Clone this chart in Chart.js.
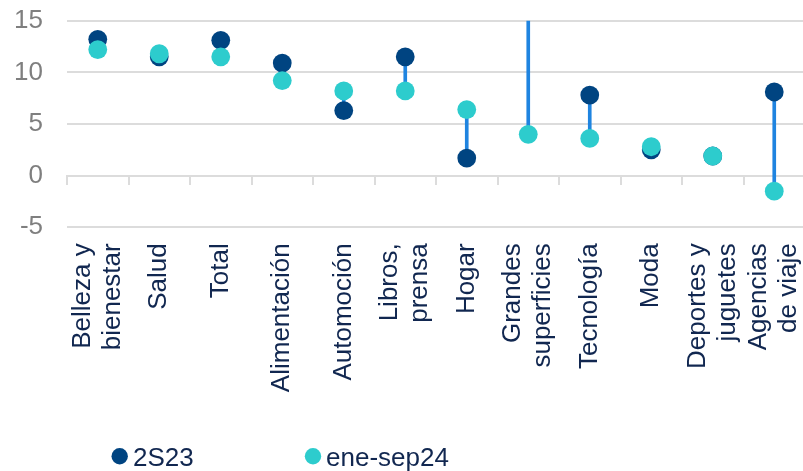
<!DOCTYPE html>
<html>
<head>
<meta charset="utf-8">
<script src="https://cdn.jsdelivr.net/npm/chart.js@4.4.1/dist/chart.umd.min.js"></script>
<style>
  html, body { margin: 0; padding: 0; background: #ffffff; overflow: hidden; }
  #wrap { position: relative; width: 805px; height: 471px; }
</style>
</head>
<body>
<div id="wrap"><canvas id="chart"></canvas></div>
<script>
// Categories (multi-line labels as arrays)
const categories = [
  ["Belleza y", "bienestar"], "Salud", "Total", "Alimentación", "Automoción",
  ["Libros,", "prensa"], "Hogar", ["Grandes", "superficies"], "Tecnología",
  "Moda", ["Deportes y", "juguetes"], ["Agencias", "de viaje"]
];

// Series values
const series2S23     = [13.2, 11.5, 13.1, 10.9, 6.3, 11.5, 1.7, 19.0, 7.8, 2.5, 1.9, 8.1];
const seriesEneSep24 = [12.2, 11.8, 11.5,  9.2, 8.2,  8.2, 6.4,  4.0, 3.6, 2.8, 1.9, -1.5];

// Series names and value-axis ticks
const seriesNames = ["2S23", "ene-sep24"];
const yTickValues = [-5, 0, 5, 10, 15];

const NAVY = '#004481';
const AQUA = '#2dcccd';
const LINK = '#1f84e0';
const GRID = '#dcdcdc';
const TEXT = '#112750';
const AXIS_TEXT = '#7f7f7f';
const FONT = '"Liberation Sans", Arial, Helvetica, sans-serif';

// Plot box: left edge, top (value 15) and bottom (value -5)
const PLOT_LEFT = 67;
const PLOT_TOP = 20.7;
const PLOT_BOTTOM = 227.3;
const PAD_BOTTOM = 60;

// Vertical connector spanning both values of each category
const spans = categories.map((_, i) => [series2S23[i], seriesEneSep24[i]]);

const noPadding = (s) => {
  s.paddingLeft = 0; s.paddingRight = 0; s.paddingTop = 0; s.paddingBottom = 0;
};

// Keep multi-line rotated category labels centred on their tick
const centerLabels = {
  id: 'centerLabels',
  beforeDraw(chart) {
    chart.scales.x.getLabelItems().forEach(it => {
      if (it._centered) return;
      const n = Array.isArray(it.label) ? it.label.length : 1;
      it.options.translation[0] -= (n - 1) * it.font.lineHeight / 2;
      it._centered = true;
    });
  }
};

// Legend with round markers under the plot
const dotLegend = {
  id: 'dotLegend',
  afterDraw(chart) {
    const ctx = chart.ctx;
    const entries = [
      { ds: chart.data.datasets[1], cx: 119.7, tx: 133 },
      { ds: chart.data.datasets[0], cx: 313, tx: 326 }
    ];
    ctx.save();
    ctx.font = '26px ' + FONT;
    ctx.textBaseline = 'alphabetic';
    ctx.textAlign = 'left';
    entries.forEach(e => {
      ctx.beginPath();
      ctx.fillStyle = e.ds.pointBackgroundColor;
      ctx.arc(e.cx, 456.3, 8.2, 0, Math.PI * 2);
      ctx.fill();
      ctx.fillStyle = TEXT;
      ctx.fillText(e.ds.label, e.tx, 466);
    });
    ctx.restore();
  }
};

const dotStyle = (color) => ({
  type: 'line',
  showLine: false,
  pointRadius: 9.4,
  pointHoverRadius: 9.4,
  pointBorderWidth: 0,
  pointBackgroundColor: color,
  backgroundColor: color,
  borderColor: color
});

new Chart(document.getElementById('chart'), {
  type: 'bar',
  data: {
    labels: categories,
    datasets: [
      Object.assign(dotStyle(AQUA), { label: seriesNames[1], data: seriesEneSep24, order: 0 }),
      Object.assign(dotStyle(NAVY), { label: seriesNames[0], data: series2S23, order: 1 }),
      {
        type: 'bar',
        label: 'rango',
        data: spans,
        backgroundColor: LINK,
        borderWidth: 0,
        barThickness: 3,
        order: 2
      }
    ]
  },
  options: {
    responsive: true,
    maintainAspectRatio: false,
    animation: false,
    events: [],
    layout: {
      autoPadding: false,
      padding: { left: 14, right: 0, top: PLOT_TOP, bottom: PAD_BOTTOM }
    },
    plugins: {
      legend: { display: false },
      tooltip: { enabled: false }
    },
    scales: {
      x: {
        offset: true,
        grid: { display: false, drawTicks: false, offset: true },
        border: { display: false },
        ticks: {
          autoSkip: false,
          maxRotation: 90,
          minRotation: 90,
          padding: 16,
          color: TEXT,
          font: { family: FONT, size: 26, lineHeight: 1.15 }
        },
        afterFit(s) {
          noPadding(s);
          s.height = 471 - PLOT_BOTTOM - PAD_BOTTOM;
        }
      },
      x0: {
        type: 'category',
        axis: 'x',
        position: { y: 0 },
        offset: true,
        grid: {
          offset: true,
          drawOnChartArea: false,
          drawTicks: true,
          tickLength: 8,
          color: GRID,
          lineWidth: 2
        },
        border: { display: true, color: GRID, width: 2 },
        ticks: { display: false },
        afterFit: noPadding
      },
      y: {
        min: -5,
        max: 15,
        afterBuildTicks(s) { s.ticks = yTickValues.map(v => ({ value: v })); },
        grid: { color: GRID, lineWidth: 2, drawTicks: false },
        border: { display: false },
        ticks: {
          padding: 24,
          color: AXIS_TEXT,
          font: { family: FONT, size: 26 }
        },
        afterFit(s) {
          noPadding(s);
          s.width = PLOT_LEFT - 14;
        }
      }
    }
  },
  plugins: [centerLabels, dotLegend]
});
</script>
</body>
</html>
